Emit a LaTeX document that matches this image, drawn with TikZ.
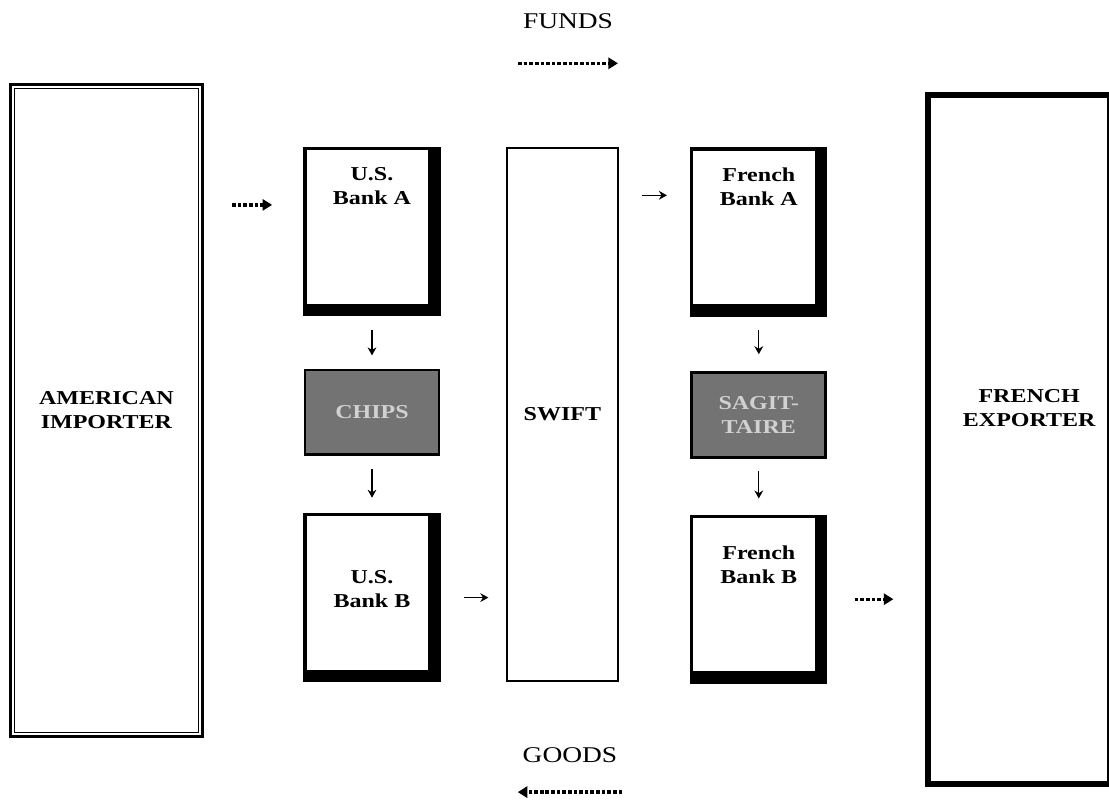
\documentclass[tikz,border=0pt]{standalone}
\usepackage{fontspec}
\setmainfont{Liberation Serif}[FakeStretch=1.22]
\usetikzlibrary{arrows.meta}

\begin{document}
\begin{tikzpicture}[
  lbl/.style={font=\bfseries\fontsize{14}{17}\selectfont, align=center},
  party/.style={draw, lbl, minimum width=4.8cm, minimum height=16.3cm},
  bank/.style={draw, line width=2.4pt, minimum width=3.35cm, minimum height=4.15cm,
    path picture={
      \fill (path picture bounding box.north east) rectangle ([xshift=-0.27cm]path picture bounding box.south east);
      \fill (path picture bounding box.south west) rectangle ([yshift=0.27cm]path picture bounding box.south east);}},
  clearing/.style={draw, line width=2pt, fill=black!55, text=black!18, lbl, minimum width=3.35cm, minimum height=2.12cm},
  flow/.style={line width=0.9pt, -{Stealth[length=2mm, width=2.2mm]}},
  dotflow/.style={line width=2.4pt, dash pattern=on 2.6pt off 1.4pt, -{Triangle[length=2.4mm, width=2.8mm]}},
  heading/.style={font=\fontsize{16}{18}\selectfont}
]
\useasboundingbox (0,0) rectangle (27.725,-20.075);

% the two traders
\node[party, line width=2.4pt] (imp) at (2.66,-10.26) {AMERICAN\\IMPORTER};
\draw[line width=0.8pt] ([shift={(0.14,-0.14)}]imp.north west) rectangle ([shift={(-0.14,0.14)}]imp.south east);
\node[party, line width=4pt, minimum width=4.55cm, minimum height=17.22cm,
  label={[name=exptext, lbl, anchor=center, xshift=0.25cm, yshift=0.79cm]center:FRENCH\\EXPORTER}] (exp) at (25.48,-10.99) {};

% banks and clearing systems
\node[bank, label={[name=usatext, lbl, anchor=center, yshift=-0.98cm]north:U.S.\\Bank A}] (usa) at (9.3,-5.79) {};
\node[clearing] (chips) at (9.3,-10.31) {CHIPS};
\node[bank, label={[name=usbtext, lbl, anchor=center, yshift=-1.9cm]north:U.S.\\Bank B}] (usb) at (9.3,-14.94) {};
\node[draw, line width=1.8pt, lbl, minimum width=2.78cm, minimum height=13.33cm] (swift) at (14.06,-10.36) {SWIFT};
\node[bank, label={[name=fratext, lbl, anchor=center, yshift=-0.98cm]north:French\\Bank A}] (fra) at (18.97,-5.8) {};
\node[clearing] (sagit) at (18.97,-10.38) {SAGIT-\\TAIRE};
\node[bank, label={[name=frbtext, lbl, anchor=center, yshift=-1.25cm]north:French\\Bank B}] (frb) at (18.97,-14.98) {};

% captions
\node[heading] (funds) at (14.2,-0.52) {FUNDS};
\node[heading] (goods) at (14.25,-18.87) {GOODS};
\draw[dotflow] ([yshift=-0.75cm]funds.south west) -- ([yshift=-0.75cm]funds.south east);
\draw[dotflow] ([yshift=-0.62cm]goods.south east) -- ([yshift=-0.62cm]goods.south west);

% payment flow
\coordinate (inA) at ([yshift=-1.45cm]usa.north west);
\coordinate (inF) at ([yshift=-1.2cm]fra.north west);
\draw[dotflow, shorten <=0.7cm, shorten >=0.78cm] (inA -| imp.east) -- (inA);
\draw[flow, shorten <=0.35cm, shorten >=0.33cm] (usa) -- (chips);
\draw[flow, shorten <=0.33cm, shorten >=0.38cm] (chips) -- (usb);
\draw[flow, shorten <=0.58cm, shorten >=0.43cm] (usb.east) -- (usb.east -| swift.west);
\draw[flow, shorten <=0.58cm, shorten >=0.58cm] (swift.east |- inF) -- (inF);
\draw[flow, shorten <=0.33cm, shorten >=0.43cm] (fra) -- (sagit);
\draw[flow, shorten <=0.3cm, shorten >=0.4cm] (sagit) -- (frb);
\draw[dotflow, shorten <=0.68cm, shorten >=0.8cm] (frb.east) -- (frb.east -| exp.west);
\end{tikzpicture}
\end{document}
